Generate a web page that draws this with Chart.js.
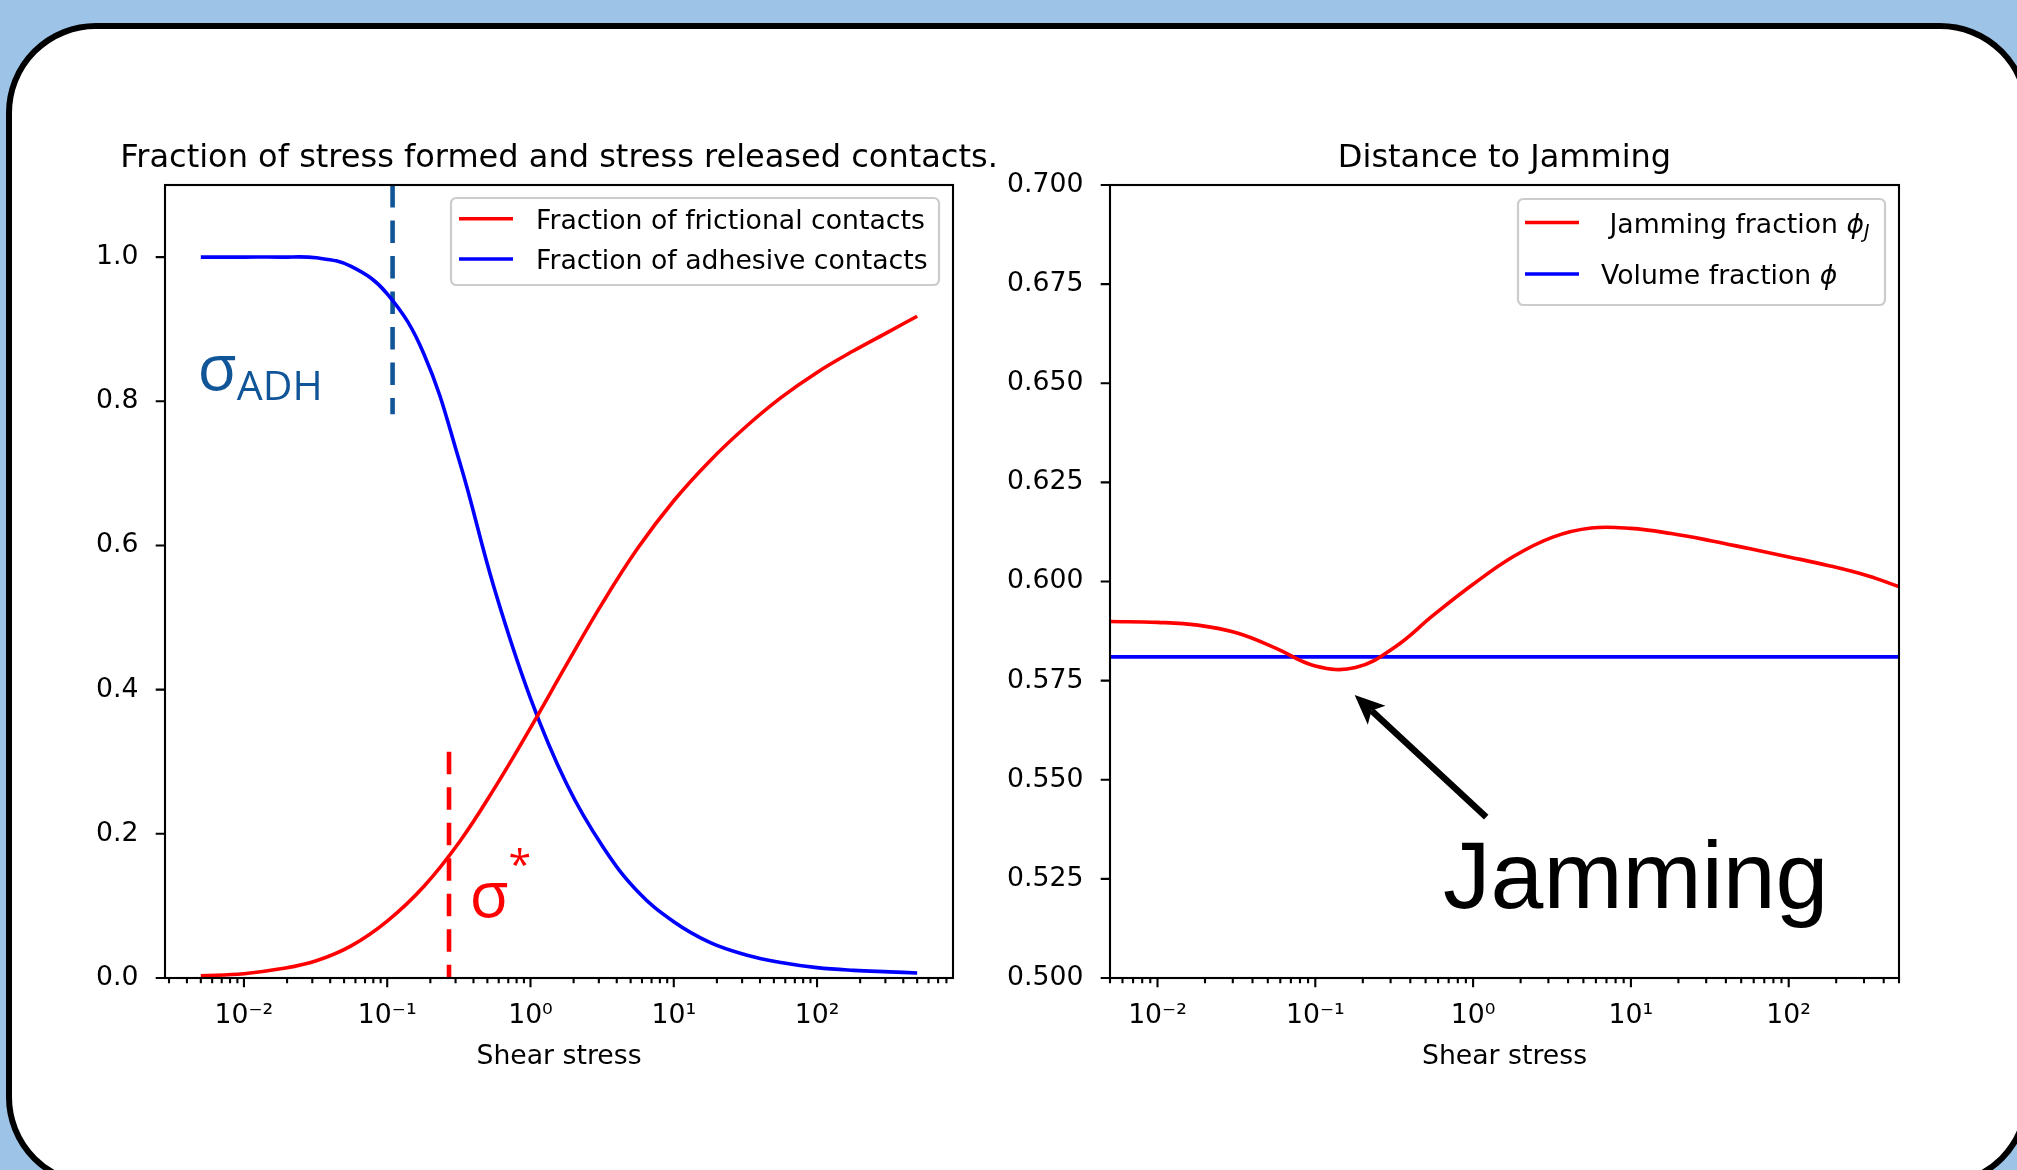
<!DOCTYPE html>
<html>
<head>
<meta charset="utf-8">
<script src="https://cdn.jsdelivr.net/npm/chart.js@4.4.0/dist/chart.umd.min.js"></script>
<style>
html, body { margin: 0; padding: 0; }
body { width: 2017px; height: 1170px; background: #9dc3e6; position: relative; overflow: hidden; }
#panel { position: absolute; left: 6px; top: 23px; width: 2024px; height: 1164px; box-sizing: border-box;
         border: 6px solid #000; border-radius: 90px; background: #fff; }
canvas { position: absolute; left: 0; top: 0; }
</style>
</head>
<body>
<div id="panel"></div>
<canvas id="leftChart" width="2017" height="1170"></canvas>
<canvas id="rightChart" width="2017" height="1170"></canvas>
<script>
// values (quarter-decade steps of shear stress)
const stress = [0.005, 0.01, 0.018, 0.032, 0.056, 0.1, 0.18, 0.32, 0.56, 1, 1.8, 3.2, 5.6, 10, 18, 32, 56, 100, 180, 320, 500];
const frictional = [0.003, 0.006, 0.0127, 0.024, 0.0446, 0.079, 0.127, 0.189, 0.263, 0.347, 0.436, 0.521, 0.596, 0.662, 0.718, 0.765, 0.805, 0.84, 0.87, 0.897, 0.918];
const adhesive = [1.0, 1.0, 1.0, 0.999, 0.987, 0.949, 0.866, 0.716, 0.54, 0.388, 0.268, 0.182, 0.12, 0.078, 0.049, 0.032, 0.0215, 0.0144, 0.0106, 0.0085, 0.007];

// vertical markers (stress, fraction span)
const sigmaAdhX = [0.109, 0.109];
const sigmaAdhY = [1.1, 0.782];
const sigmaStarX = [0.27, 0.27];
const sigmaStarY = [0.314, 0.0];

const stressJ = [0.005, 0.01, 0.018, 0.032, 0.056, 0.1, 0.18, 0.32, 0.56, 1, 1.8, 3.2, 5.6, 10, 18, 32, 56, 100, 180, 320, 500];
const jammingFraction = [0.5899, 0.5897, 0.589, 0.587, 0.5832, 0.5787, 0.5783, 0.5835, 0.5915, 0.5993, 0.6063, 0.6112, 0.6135, 0.6134, 0.6121, 0.6103, 0.6083, 0.6062, 0.604, 0.6014, 0.5987];
const stressV = [0.005, 500];
const volumeFraction = [0.581, 0.581];

const leftYTicks = [0.0, 0.2, 0.4, 0.6, 0.8, 1.0];
const rightYTicks = [0.500, 0.525, 0.550, 0.575, 0.600, 0.625, 0.650, 0.675, 0.700];

// annotation anchors in data units
const adhLabelAt = [0.00475, 0.8157];
const starLabelAt = [0.375, 0.0846];
const arrowStress = [1.211, 0.1776];
const arrowPhi = [0.5406, 0.5714];
const jamLabelAt = [0.645, 0.5176];

Chart.defaults.font.family = '"DejaVu Sans", sans-serif';
Chart.defaults.font.size = 26.7;
Chart.defaults.color = '#000';

const pts = (xs, ys) => xs.map((x, i) => ({x: x, y: ys[i]}));

function logTicks(min, max) {
    const out = [];
    for (let e = Math.floor(Math.log10(min)); e <= Math.ceil(Math.log10(max)); e++) {
        for (let d = 1; d <= 9; d++) {
            const v = d * Math.pow(10, e);
            if (v >= min && v <= max) out.push({value: v, major: d === 1});
        }
    }
    return out;
}

const sup = {'-': '\u207B', '0': '\u2070', '1': '\u00B9', '2': '\u00B2', '3': '\u00B3'};
function powLabel(v) {
    const e = Math.round(Math.log10(v));
    return '10' + String(e).split('').map(c => sup[c]).join('');
}

function drawParts(ctx, parts, x, y, size) {
    parts.forEach(p => {
        const s = p.sub ? size * 0.7 : size;
        ctx.font = (p.it ? 'italic ' : '') + s + 'px "DejaVu Sans"';
        ctx.fillText(p.t, x, p.sub ? y + size * 0.22 : y);
        x += ctx.measureText(p.t).width;
    });
}

function roundRect(ctx, x0, y0, x1, y1, r) {
    ctx.beginPath();
    ctx.moveTo(x0 + r, y0);
    ctx.arcTo(x1, y0, x1, y1, r);
    ctx.arcTo(x1, y1, x0, y1, r);
    ctx.arcTo(x0, y1, x0, y0, r);
    ctx.arcTo(x0, y0, x1, y0, r);
    ctx.closePath();
}

// frame, ticks, title and legend in the matplotlib look
const subplotDecor = {
    id: 'subplotDecor',
    afterDatasetsDraw(chart, args, opts) {
        const ctx = chart.ctx, a = chart.chartArea;
        const xs = chart.scales.x, ys = chart.scales.y;
        ctx.save();
        ctx.strokeStyle = '#000';
        ctx.lineWidth = 2.1;
        ctx.strokeRect(a.left, a.top, a.right - a.left, a.bottom - a.top);
        ctx.beginPath();
        xs.ticks.forEach(t => {
            const px = xs.getPixelForValue(t.value);
            ctx.moveTo(px, a.bottom);
            ctx.lineTo(px, a.bottom + (t.major ? 9.3 : 5.3));
        });
        ys.ticks.forEach(t => {
            const py = ys.getPixelForValue(t.value);
            ctx.moveTo(a.left, py);
            ctx.lineTo(a.left - 9.3, py);
        });
        ctx.stroke();

        ctx.fillStyle = '#000';
        ctx.font = '32px "DejaVu Sans"';
        ctx.textAlign = 'center';
        ctx.textBaseline = 'alphabetic';
        ctx.fillText(opts.title, (a.left + a.right) / 2, a.top - 18.5);

        const lg = opts.legend;
        roundRect(ctx, lg.box[0], lg.box[1], lg.box[2], lg.box[3], 5.3);
        ctx.fillStyle = 'rgba(255,255,255,0.8)';
        ctx.fill();
        ctx.strokeStyle = '#cccccc';
        ctx.lineWidth = 2.2;
        ctx.stroke();
        ctx.textAlign = 'left';
        lg.rows.forEach(r => {
            const ds = chart.data.datasets[r.ds];
            ctx.beginPath();
            ctx.strokeStyle = ds.borderColor;
            ctx.lineWidth = ds.borderWidth;
            ctx.moveTo(lg.handle[0], r.y);
            ctx.lineTo(lg.handle[1], r.y);
            ctx.stroke();
            ctx.fillStyle = '#000';
            drawParts(ctx, r.parts || [{t: ds.label}], lg.textX, r.y + 10, 26.7);
        });
        ctx.restore();
    }
};

const sigmaLabels = {
    id: 'sigmaLabels',
    afterDatasetsDraw(chart) {
        const ctx = chart.ctx, xs = chart.scales.x, ys = chart.scales.y;
        ctx.save();
        ctx.textAlign = 'left';
        ctx.textBaseline = 'alphabetic';
        let px = xs.getPixelForValue(adhLabelAt[0]), py = ys.getPixelForValue(adhLabelAt[1]);
        ctx.fillStyle = '#115599';
        ctx.font = '64px "Open Sans"';
        ctx.fillText('\u03C3', px, py);
        let w = ctx.measureText('\u03C3').width;
        ctx.font = '41px "Open Sans"';
        ctx.fillText('ADH', px + w, py + 10);

        px = xs.getPixelForValue(starLabelAt[0]);
        py = ys.getPixelForValue(starLabelAt[1]);
        ctx.fillStyle = '#ff0000';
        ctx.font = '64px "Open Sans"';
        ctx.fillText('\u03C3', px, py);
        w = ctx.measureText('\u03C3').width;
        ctx.font = '41px "Open Sans"';
        ctx.fillText('*', px + w, py - 38);
        ctx.restore();
    }
};

const jammingArrow = {
    id: 'jammingArrow',
    afterDatasetsDraw(chart) {
        const ctx = chart.ctx, xs = chart.scales.x, ys = chart.scales.y;
        const x0 = xs.getPixelForValue(arrowStress[0]), y0 = ys.getPixelForValue(arrowPhi[0]);
        const x1 = xs.getPixelForValue(arrowStress[1]), y1 = ys.getPixelForValue(arrowPhi[1]);
        const ang = Math.atan2(y1 - y0, x1 - x0);
        const ux = Math.cos(ang), uy = Math.sin(ang), nx = -uy, ny = ux;
        const L = 30, W = 13, N = 7;
        ctx.save();
        ctx.strokeStyle = '#000';
        ctx.fillStyle = '#000';
        ctx.lineWidth = 6.5;
        ctx.beginPath();
        ctx.moveTo(x0, y0);
        ctx.lineTo(x1 - ux * (L - N), y1 - uy * (L - N));
        ctx.stroke();
        ctx.beginPath();
        ctx.moveTo(x1, y1);
        ctx.lineTo(x1 - ux * L + nx * W, y1 - uy * L + ny * W);
        ctx.lineTo(x1 - ux * (L - N), y1 - uy * (L - N));
        ctx.lineTo(x1 - ux * L - nx * W, y1 - uy * L - ny * W);
        ctx.closePath();
        ctx.fill();
        ctx.font = '95px "Liberation Sans"';
        ctx.textAlign = 'left';
        ctx.textBaseline = 'alphabetic';
        ctx.fillText('Jamming', xs.getPixelForValue(jamLabelAt[0]), ys.getPixelForValue(jamLabelAt[1]));
        ctx.restore();
    }
};

function lineSet(label, data, color, extra) {
    return Object.assign({label: label, data: data, borderColor: color, borderWidth: 3.6,
        pointRadius: 0, fill: false, tension: 0.4}, extra || {});
}

function xAxis(min, max) {
    return {
        type: 'logarithmic', min: min, max: max,
        grid: {display: false}, border: {display: false},
        afterBuildTicks: s => { s.ticks = logTicks(min, max); },
        afterFit: s => { s.height = 120; },
        ticks: {autoSkip: false, maxRotation: 0, padding: 14,
            callback: (v, i, ticks) => ticks[i].major ? powLabel(v) : ''},
        title: {display: true, text: 'Shear stress', font: {size: 26.7}, padding: {top: 0, bottom: 25}}
    };
}

function yAxis(min, max, tickVals, digits, width) {
    return {
        type: 'linear', min: min, max: max,
        grid: {display: false}, border: {display: false},
        afterBuildTicks: s => { s.ticks = tickVals.map(v => ({value: v})); },
        afterFit: s => { s.width = width; },
        ticks: {padding: 18.6, callback: v => v.toFixed(digits)}
    };
}

const baseOptions = {
    responsive: false, animation: false, devicePixelRatio: 1, events: []
};

new Chart(document.getElementById('leftChart'), {
    type: 'line',
    data: {
        datasets: [
            lineSet('Fraction of frictional contacts', pts(stress, frictional), '#ff0000'),
            lineSet('Fraction of adhesive contacts', pts(stress, adhesive), '#0000ff'),
            lineSet('sigma ADH', pts(sigmaAdhX, sigmaAdhY), '#115599',
                {borderWidth: 4.6, borderDash: [22.5, 13], tension: 0, clip: 4}),
            lineSet('sigma star', pts(sigmaStarX, sigmaStarY), '#ff0000',
                {borderWidth: 4.6, borderDash: [22.5, 13], tension: 0})
        ]
    },
    options: Object.assign({}, baseOptions, {
        layout: {padding: {left: 65, right: 1064, top: 185, bottom: 72}},
        scales: {
            x: xAxis(Math.pow(10, -2.551), Math.pow(10, 2.949)),
            y: yAxis(0, 1.1, leftYTicks, 1, 100)
        },
        plugins: {
            legend: {display: false}, tooltip: {enabled: false},
            subplotDecor: {
                title: 'Fraction of stress formed and stress released contacts.',
                legend: {box: [451, 198, 939, 285], handle: [459, 513], textX: 536,
                    rows: [{ds: 0, y: 218.8}, {ds: 1, y: 259}]}
            }
        }
    }),
    plugins: [sigmaLabels, subplotDecor]
});

new Chart(document.getElementById('rightChart'), {
    type: 'line',
    data: {
        datasets: [
            lineSet('Jamming fraction', pts(stressJ, jammingFraction), '#ff0000'),
            lineSet('Volume fraction', pts(stressV, volumeFraction), '#0000ff')
        ]
    },
    options: Object.assign({}, baseOptions, {
        layout: {padding: {left: 1000, right: 118, top: 185, bottom: 72}},
        scales: {
            x: xAxis(0.005, 500),
            y: yAxis(0.5, 0.7, rightYTicks, 3, 110)
        },
        plugins: {
            legend: {display: false}, tooltip: {enabled: false},
            subplotDecor: {
                title: 'Distance to Jamming',
                legend: {box: [1518, 199, 1885, 305], handle: [1525, 1579], textX: 1601,
                    rows: [
                        {ds: 0, y: 222.5, parts: [{t: ' Jamming fraction '}, {t: '\u03D5', it: true}, {t: 'J', it: true, sub: true}]},
                        {ds: 1, y: 274, parts: [{t: 'Volume fraction '}, {t: '\u03D5', it: true}]}
                    ]}
            }
        }
    }),
    plugins: [jammingArrow, subplotDecor]
});
</script>
</body>
</html>
